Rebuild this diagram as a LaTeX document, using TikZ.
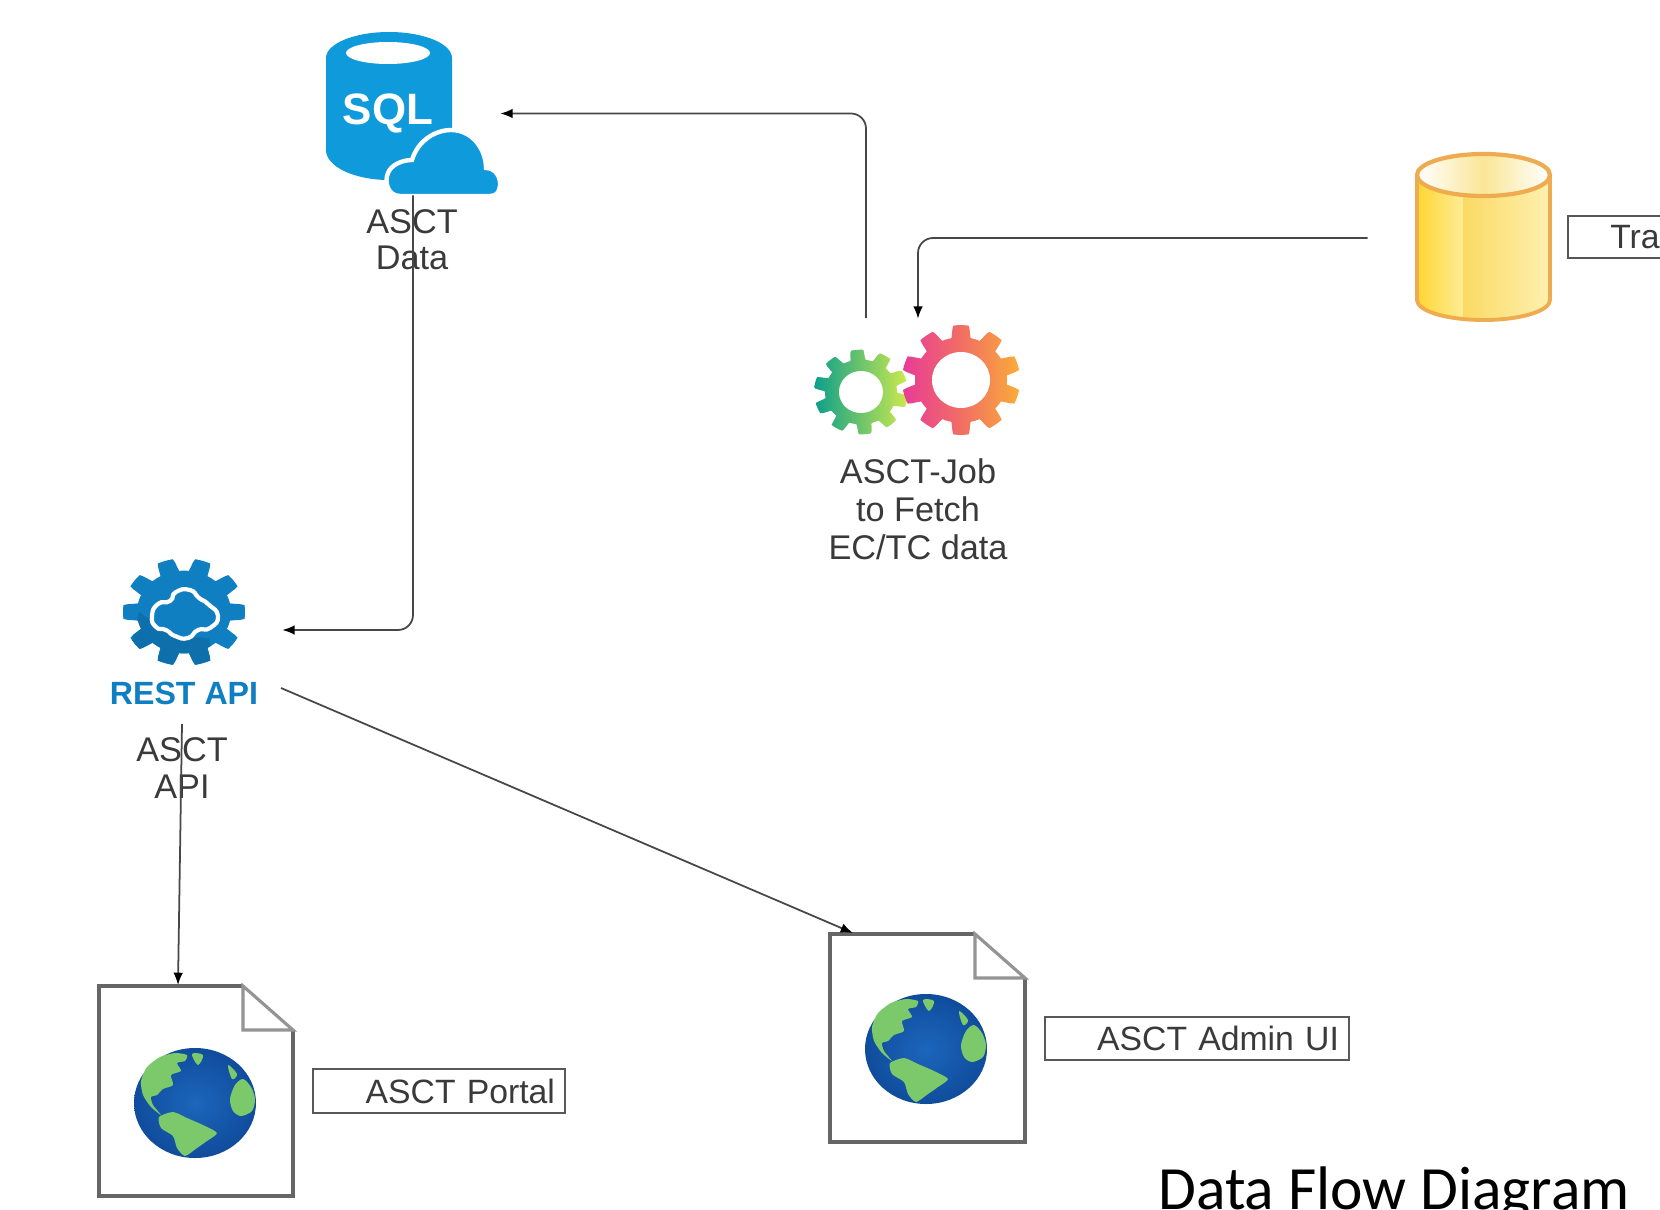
\documentclass[tikz,border=0pt]{standalone}
\usepackage{fontspec}
\setmainfont{Liberation Sans}
\newfontfamily\titlefont{Carlito}
\usetikzlibrary{arrows.meta}
\definecolor{sqlblue}{HTML}{0F9ADB}
\definecolor{apiblue}{HTML}{0F7FC2}
\definecolor{apidark}{HTML}{0D6FAB}
\definecolor{binorange}{HTML}{EEAB50}
\definecolor{labelgray}{HTML}{3A3A3A}
\definecolor{earthgreen}{HTML}{7CC96B}
\newcommand{\gearpath}[4]{plot[variable=\t,domain=0:360,samples=241] ({\t}:{#2+(#1-#2)*max(0,min(1,0.7+1.5*cos(#3*(\t-#4))))}) -- cycle}
\newcommand{\drawglobe}[2]{
  \begin{scope}[shift={(#1,#2)}]
    \shade[inner color={rgb,255:red,28;green,102;blue,188},outer color={rgb,255:red,16;green,76;blue,156}] (0,0) ellipse [x radius=61,y radius=55];
    \fill[earthgreen] plot [smooth cycle,tension=0.4] coordinates {(-54,-22) (-48,-36) (-35,-46) (-20,-50) (-8,-48) (-10,-42) (-18,-40) (-14,-32) (-24,-28) (-22,-18) (-32,-14) (-38,-8) (-44,-6) (-42,2) (-34,12) (-44,4) (-52,-8)};
    \fill[earthgreen] plot [smooth cycle,tension=0.6] coordinates {(-3,-49) (8,-48) (3,-38)};
    \fill[earthgreen] plot [smooth cycle,tension=0.5] coordinates {(35,-4) (40,-18) (48,-24) (56,-16) (60,-4) (57,8) (46,13) (38,8)};
    \fill[earthgreen] plot [smooth cycle,tension=0.6] coordinates {(33,-38) (42,-29) (37,-24)};
    \fill[earthgreen] plot [smooth cycle,tension=0.4] coordinates {(-36,14) (-22,9) (-8,15) (8,22) (22,30) (12,38) (2,45) (-10,53) (-18,45) (-22,33) (-34,25)};
  \end{scope}
}
\newcommand{\drawdoc}[6]{
  \fill[white] (#1,#2) -- (#5,#2) -- (#3,#6) -- (#3,#4) -- (#1,#4) -- cycle;
  \draw[docline] (#5,#2) -- (#1,#2) -- (#1,#4) -- (#3,#4) -- (#3,#6);
  \draw[foldline] (#5,#2) -- (#3,#6) -- (#5,#6) -- cycle;
}

\begin{document}
\begin{tikzpicture}
    [
    x=0.02cm,y=-0.02cm,
    iconbox/.style = {inner sep=0pt,draw=none},
    caption/.style = {font=\fontsize{19.5}{21.5}\selectfont,text=labelgray,align=center,inner sep=0pt},
    labelbox/.style = {draw=labelgray!85,line width=1pt,font=\fontsize{19.2}{21}\selectfont,text=labelgray,align=right,inner xsep=0.2cm,inner ysep=0pt},
    docline/.style = {draw=black!60,line width=1.8pt,line join=miter},
    foldline/.style = {draw=black!42,line width=1.8pt,line join=miter},
    flow/.style = {draw=black!72,line width=1pt,rounded corners=0.3cm,-{Latex[length=7pt,width=5.5pt,black]}}
    ]
\useasboundingbox (0,0) rectangle (1660,1210);

% sql icon
\fill[sqlblue] (326,58) arc [start angle=180,end angle=0,x radius=63,y radius=-26] -- (452,150) arc [start angle=0,end angle=-180,x radius=63,y radius=-30] -- cycle;
\fill[white] (388,53) ellipse [x radius=42,y radius=11];
\node[iconbox,text=white,font=\fontsize{25}{25}\selectfont\bfseries] (sqltext) at (388,113) {SQL};
\draw[white,line width=2.5pt,fill=sqlblue] (400,196) .. controls (388,196) and (384,182) .. (388,173)
  .. controls (391,165) and (402,160) .. (412,160)
  .. controls (418,140) and (436,130) .. (451,130)
  .. controls (473,130) and (486,150) .. (486,168)
  .. controls (496,168) and (501,178) .. (500,186)
  .. controls (499,193) and (496,196) .. (490,196) -- cycle;

% yellow store
\begin{scope}
\clip (1417,175) -- (1417,300) arc [start angle=180,end angle=0,x radius=66.5,y radius=20] -- (1550,175) -- cycle;
\path[left color={rgb,255:red,255;green,214;blue,50},right color={rgb,255:red,254;green,236;blue,150}] (1417,170) rectangle (1463,325);
\path[left color={rgb,255:red,251;green,218;blue,100},right color={rgb,255:red,253;green,240;blue,176}] (1463,170) rectangle (1550,325);
\end{scope}
\draw[binorange,line width=2.2pt] (1417,175) -- (1417,300) arc [start angle=180,end angle=0,x radius=66.5,y radius=20] -- (1550,175);
\draw[binorange,line width=2.4pt,left color=white,right color=white,middle color={rgb,255:red,250;green,230;blue,150}] (1483.5,175) ellipse [x radius=66.5,y radius=21];

% gears of the job
\path[left color={rgb,255:red,13;green,159;blue,138},right color={rgb,255:red,205;green,234;blue,77},shift={(861,392)},yscale=0.9] \gearpath{47}{36}{10}{85};
\fill[white] (861,392) ellipse [x radius=22,y radius=21];
\path[left color={rgb,255:red,232;green,60;blue,150},right color={rgb,255:red,250;green,172;blue,56},middle color={rgb,255:red,241;green,110;blue,100},shift={(961,380)},yscale=0.93] \gearpath{59}{46}{10}{90};
\fill[white] (961,380) ellipse [x radius=29,y radius=28];

% rest api gear
\begin{scope}[shift={(184,612)},yscale=0.88]
\fill[apiblue] \gearpath{61}{47}{10}{0};
\begin{scope}
\clip \gearpath{61}{47}{10}{0};
\fill[apidark] (-45,0) -- (-15,25) -- (25,30) -- (30,70) -- (-60,70) -- cycle;
\end{scope}
\end{scope}
\draw[white,line width=2.4pt,fill=apiblue] plot [smooth cycle,tension=1] coordinates {(152,616) (158,604) (170,601) (176,592) (190,590) (199,598) (208,604) (218,616) (210,628) (198,630) (188,638) (175,636) (166,630) (156,627)};
\node[iconbox,text=apiblue,font=\fontsize{18.3}{19}\selectfont\bfseries] (resttext) at (184,693) {REST API};

% web pages
\drawdoc{99}{986}{293}{1196}{243}{1030}
\drawglobe{195}{1103}
\drawdoc{830}{934}{1025}{1142}{975}{978}
\drawglobe{926}{1049}

\node[iconbox,minimum width=3.48cm,minimum height=3.26cm] (sqlicon) at (413,113.5) {};
\node[iconbox,minimum width=3.84cm,minimum height=3cm] (apiicon) at (186,630) {};
\node[iconbox,minimum width=3.96cm,minimum height=2.44cm] (jobicon) at (918,380) {};
\node[iconbox,minimum width=3.68cm,minimum height=3.4cm] (storeicon) at (1460,238) {};
\coordinate (jobout) at (866,318);
\coordinate (apidown) at (182,724);
\coordinate (apiout) at (281,688);
\coordinate (portalin) at (178,985);
\coordinate (adminin) at (853,933);

\node[caption,font=\fontsize{19.5}{20.4}\selectfont] (sqllabel) at (412,240) {ASCT\\Data};
\node[caption] (joblabel) at (918,509) {ASCT-Job\\to Fetch\\EC/TC data};
\node[caption] (apilabel) at (182,768) {ASCT\\API};
\node[labelbox,text width=4.64cm,minimum height=0.88cm] (portallabel) at (439,1091) {ASCT Portal};
\node[labelbox,text width=5.68cm,minimum height=0.86cm] (adminlabel) at (1197,1038.5) {ASCT Admin UI};

\draw[labelgray!85,line width=1pt] (1660,216) -- (1568,216) -- (1568,258) -- (1660,258);
\node[iconbox,anchor=base west,text=labelgray,font=\fontsize{19.2}{21}\selectfont] (storelabel) at (1610,248) {Tra};

\node[iconbox,anchor=base,font=\fontsize{35}{37}\titlefont] (title) at (1394,1209) {Data Flow Diagram};

\draw[flow] (jobout) |- (sqlicon.east);
\draw[flow] (storeicon.west) -| (jobicon.north);
\draw[flow] (sqlicon.south) |- (apiicon.east);
\draw[flow] (apidown) -- (portalin);
\draw[flow] (apiout) -- (adminin);

\end{tikzpicture}
\end{document}
